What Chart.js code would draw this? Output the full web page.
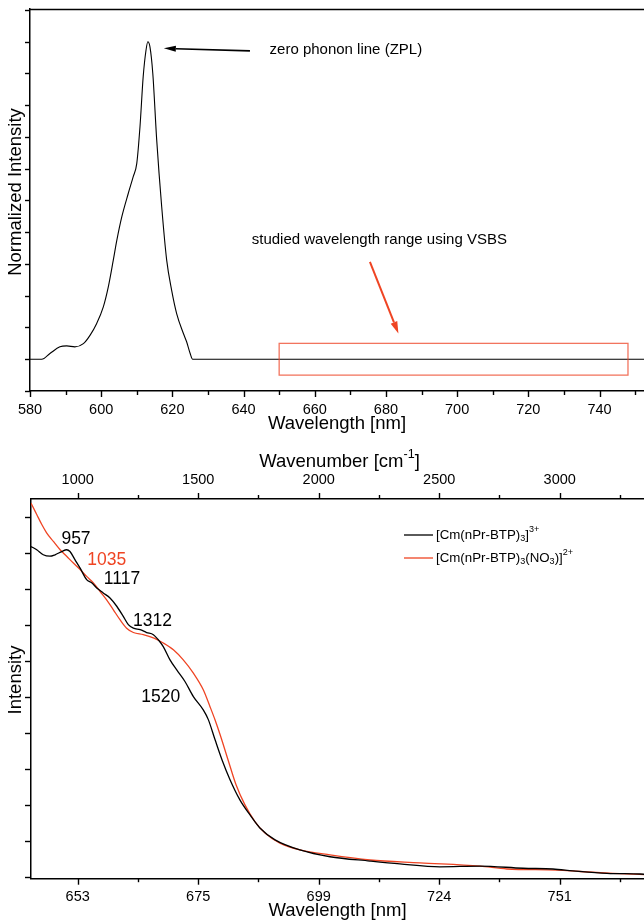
<!DOCTYPE html>
<html>
<head>
<meta charset="utf-8">
<title>Cm(III) emission and vibronic sideband</title>
<script src="https://cdn.jsdelivr.net/npm/chart.js@4.4.1/dist/chart.umd.min.js"></script>
<style>
  body { margin: 0; background: #fff; width: 644px; height: 922px; overflow: hidden; position: relative; }
  canvas { position: absolute; left: 0; }
  #zpl-chart { top: 0; }
  #vsbs-chart { top: 440px; }
</style>
</head>
<body>
<canvas id="zpl-chart" width="644" height="440"></canvas>
<canvas id="vsbs-chart" width="644" height="482"></canvas>
<script>
const FONT = "'Liberation Sans', Arial, sans-serif";
Chart.defaults.font.family = FONT;
Chart.defaults.color = '#000';

// emission spectrum, normalized to the ZPL maximum
const zplWavelength = [580, 583.3, 585.6, 588.4, 590.3, 592.6, 595, 596.9, 598.7, 600.6, 602, 603.4, 604.4, 605.8, 607.6, 609, 610, 610.9, 611.8, 612.6, 613.1, 613.7, 614.5, 615.6, 617, 618.4, 619.8, 621.2, 623.1, 624, 625, 625.7, 760];
const zplIntensity = [0, 0, 0.018, 0.039, 0.042, 0.039, 0.049, 0.076, 0.112, 0.165, 0.228, 0.312, 0.375, 0.449, 0.522, 0.575, 0.617, 0.732, 0.89, 0.974, 1.0, 0.984, 0.9, 0.69, 0.48, 0.312, 0.217, 0.144, 0.081, 0.055, 0.018, 0, 0];

// vibronic sideband, shift from the ZPL in cm-1
const btpShift = [806, 830, 857, 885, 906, 934, 954, 968, 989, 1010, 1037, 1058, 1079, 1106, 1134, 1162, 1189, 1210, 1231, 1259, 1286, 1314, 1334, 1355, 1383, 1411, 1445, 1480, 1521, 1542, 1570, 1599, 1632, 1673, 1715, 1756, 1819, 1922, 2047, 2213, 2337, 2503, 2669, 2848, 2972, 3055, 3196, 3333, 3360];
const btpIntensity = [9.19, 9.10, 8.96, 8.92, 8.96, 9.05, 9.10, 9.05, 8.82, 8.59, 8.27, 8.18, 8.04, 7.90, 7.76, 7.53, 7.25, 7.02, 6.92, 6.88, 6.80, 6.74, 6.60, 6.41, 6.04, 5.76, 5.44, 5.02, 4.65, 4.38, 3.82, 3.26, 2.71, 2.15, 1.73, 1.37, 1.04, 0.76, 0.57, 0.45, 0.37, 0.29, 0.31, 0.25, 0.23, 0.18, 0.11, 0.09, 0.08];
const nitrateShift = [806, 830, 851, 871, 899, 927, 954, 982, 1010, 1037, 1065, 1093, 1120, 1148, 1176, 1203, 1231, 1272, 1314, 1355, 1397, 1438, 1480, 1521, 1549, 1570, 1591, 1624, 1657, 1694, 1736, 1777, 1839, 1922, 2047, 2213, 2420, 2669, 2781, 2989, 3084, 3221, 3333, 3360];
const nitrateIntensity = [10.4, 10.08, 9.80, 9.57, 9.33, 9.10, 8.92, 8.73, 8.55, 8.36, 8.18, 7.94, 7.71, 7.43, 7.15, 6.92, 6.80, 6.74, 6.65, 6.51, 6.32, 6.04, 5.67, 5.21, 4.74, 4.37, 3.96, 3.26, 2.57, 2.01, 1.54, 1.23, 0.95, 0.76, 0.62, 0.48, 0.40, 0.31, 0.23, 0.20, 0.16, 0.11, 0.08, 0.07];

// ticks of the sideband axes
const shiftTickValues = [1000, 1250, 1500, 1750, 2000, 2250, 2500, 2750, 3000, 3250];
const shiftTicks = [1000, 1500, 2000, 2500, 3000];
const wavelengthTicks = ['653', '675', '699', '724', '751'];
const intensityTickValues = [0, 1, 2, 3, 4, 5, 6, 7, 8, 9, 10];

// band positions written next to the curves
const peakLabels = ['957', '1035', '1117', '1312', '1520'];

const toPoints = (xs, ys) => xs.map((x, i) => ({ x, y: ys[i] }));

// rich text with sub/superscripts, drawn left to right
function drawRich(ctx, parts, x, y, size, align) {
  const fontOf = p => `${p.sub || p.sup ? size * 0.68 : size}px ${FONT}`;
  let w = 0;
  parts.forEach(p => { ctx.font = fontOf(p); w += ctx.measureText(p.t).width; });
  let cx = align === 'center' ? x - w / 2 : x;
  ctx.textAlign = 'left';
  ctx.textBaseline = 'middle';
  parts.forEach(p => {
    ctx.font = fontOf(p);
    const dy = p.sub ? size * 0.28 : p.sup ? -size * 0.38 : 0;
    ctx.fillText(p.t, cx, y + dy);
    cx += ctx.measureText(p.t).width;
  });
}

function arrow(ctx, x1, y1, x2, y2, color, width, len, half) {
  const a = Math.atan2(y2 - y1, x2 - x1);
  const bx = x2 - len * Math.cos(a), by = y2 - len * Math.sin(a);
  ctx.strokeStyle = color;
  ctx.fillStyle = color;
  ctx.lineWidth = width;
  ctx.beginPath(); ctx.moveTo(x1, y1); ctx.lineTo(bx, by); ctx.stroke();
  ctx.beginPath();
  ctx.moveTo(x2, y2);
  ctx.lineTo(bx + half * Math.sin(a), by - half * Math.cos(a));
  ctx.lineTo(bx - half * Math.sin(a), by + half * Math.cos(a));
  ctx.closePath();
  ctx.fill();
}

function verticalTitle(ctx, text, x, y, size) {
  ctx.save();
  ctx.translate(x, y);
  ctx.rotate(-Math.PI / 2);
  ctx.font = `${size}px ${FONT}`;
  ctx.textAlign = 'center';
  ctx.textBaseline = 'middle';
  ctx.fillStyle = '#000';
  ctx.fillText(text, 0, 0);
  ctx.restore();
}

// outward tick marks, long for labelled ticks and short for the rest
function tickMarks(spec) {
  return {
    id: 'tickMarks',
    afterDraw(chart) {
      const ctx = chart.ctx;
      ctx.save();
      ctx.strokeStyle = '#000';
      ctx.lineWidth = 1.4;
      Object.keys(spec).forEach(id => {
        const s = chart.scales[id];
        const cfg = spec[id];
        s.ticks.forEach(t => {
          const len = cfg.isMajor(t.value) ? cfg.long : cfg.short;
          const p = Math.round(s.getPixelForValue(t.value)) + 0.5;
          ctx.beginPath();
          if (s.position === 'left') { ctx.moveTo(s.right, p); ctx.lineTo(s.right - len, p); }
          else if (s.position === 'bottom') { ctx.moveTo(p, s.top); ctx.lineTo(p, s.top + len); }
          else { ctx.moveTo(p, s.bottom); ctx.lineTo(p, s.bottom - len); }
          ctx.stroke();
        });
      });
      ctx.restore();
    }
  };
}

const axisBorder = { color: '#000', width: 1.5 };
const noGrid = { drawOnChartArea: false, drawTicks: false };

// fixed axis box, and no extra room kept for the end labels
const fixHeight = h => s => { s.height = h; s.paddingLeft = 0; s.paddingRight = 0; };

//emission spectrum with the ZPL
const zplNotes = {
  id: 'zplNotes',
  afterDraw(chart) {
    const { ctx, chartArea: a, scales: { x, y } } = chart;
    ctx.save();
    ctx.strokeStyle = '#000';
    ctx.lineWidth = 1.5;
    ctx.beginPath();
    ctx.moveTo(a.left, a.top + 0.5);
    ctx.lineTo(a.right, a.top + 0.5);
    ctx.stroke();

    // window covered by the sideband measurement
    const x0 = x.getPixelForValue(650), x1 = x.getPixelForValue(748);
    const y0 = y.getPixelForValue(0.05), y1 = y.getPixelForValue(-0.05);
    ctx.strokeStyle = 'rgba(238, 70, 40, 0.75)';
    ctx.lineWidth = 1.3;
    ctx.strokeRect(x0, y0, x1 - x0, y1 - y0);

    arrow(ctx, x.getPixelForValue(641.8), y.getPixelForValue(0.971),
      x.getPixelForValue(617.6), y.getPixelForValue(0.979), '#000', 1.6, 12, 3);
    arrow(ctx, x.getPixelForValue(675.5), y.getPixelForValue(0.307),
      x.getPixelForValue(683.5), y.getPixelForValue(0.081), '#ef4423', 2, 12, 3.5);

    ctx.fillStyle = '#000';
    ctx.font = `15px ${FONT}`;
    ctx.textAlign = 'left';
    ctx.textBaseline = 'middle';
    ctx.fillText('zero phonon line (ZPL)', x.getPixelForValue(647.3), y.getPixelForValue(0.974));
    ctx.fillText('studied wavelength range using VSBS', x.getPixelForValue(642.3), y.getPixelForValue(0.375));

    verticalTitle(ctx, 'Normalized Intensity', 16, 192, 18.5);
    ctx.restore();
  }
};

new Chart(document.getElementById('zpl-chart'), {
  type: 'line',
  data: {
    datasets: [{
      data: toPoints(zplWavelength, zplIntensity),
      borderColor: '#000',
      borderWidth: 1.1,
      pointRadius: 0,
      cubicInterpolationMode: 'monotone'
    }]
  },
  options: {
    responsive: false,
    animation: false,
    events: [],
    layout: { padding: { top: 9, left: 0, right: 0, bottom: 0 } },
    plugins: { legend: { display: false }, tooltip: { enabled: false } },
    scales: {
      x: {
        type: 'linear', min: 580, max: 752.5,
        grid: noGrid, border: axisBorder,
        ticks: {
          stepSize: 10, includeBounds: false, autoSkip: false, maxRotation: 0,
          padding: 10.3, font: { size: 14.5 }, color: '#000',
          callback: v => (v % 20 === 0 ? v : '')
        },
        title: { display: true, text: 'Wavelength [nm]', font: { size: 18.5 }, color: '#000', padding: { top: 0, bottom: 5 } },
        afterFit: fixHeight(49)
      },
      y: {
        type: 'linear', min: -0.1, max: 1.103,
        grid: noGrid, border: axisBorder,
        ticks: { display: false, stepSize: 0.1, includeBounds: false },
        afterFit: s => { s.width = 30; }
      }
    }
  },
  plugins: [zplNotes, tickMarks({
    x: { isMajor: v => v % 20 === 0, long: 6, short: 4 },
    y: { isMajor: () => true, long: 5, short: 5 }
  })]
});

//sideband spectra of the two complexes
const vsbsNotes = {
  id: 'vsbsNotes',
  afterDraw(chart) {
    const { ctx, chartArea: a, scales: { x, y } } = chart;
    ctx.save();
    ctx.fillStyle = '#000';

    const spots = [[992.9, 9.39, '#000'], [1120.3, 8.80, '#ef4423'], [1183.8, 8.27, '#000'], [1310.4, 7.11, '#000'], [1344.8, 5.01, '#000']];
    ctx.font = `17.5px ${FONT}`;
    ctx.textAlign = 'center';
    ctx.textBaseline = 'middle';
    peakLabels.forEach((txt, i) => {
      ctx.fillStyle = spots[i][2];
      ctx.fillText(txt, x.getPixelForValue(spots[i][0]), y.getPixelForValue(spots[i][1]));
    });

    // legend
    const entries = [
      { color: '#000', parts: [{ t: '[Cm(nPr-BTP)' }, { t: '3', sub: true }, { t: ']' }, { t: '3+', sup: true }] },
      { color: '#ef4423', parts: [{ t: '[Cm(nPr-BTP)' }, { t: '3', sub: true }, { t: '(NO' }, { t: '3', sub: true }, { t: ')]' }, { t: '2+', sup: true }] }
    ];
    entries.forEach((e, i) => {
      const ly = 95 + i * 23;
      ctx.strokeStyle = e.color;
      ctx.lineWidth = 1.3;
      ctx.beginPath();
      ctx.moveTo(404, ly);
      ctx.lineTo(433, ly);
      ctx.stroke();
      ctx.fillStyle = '#000';
      drawRich(ctx, e.parts, 436, ly, 13.3, 'left');
    });

    ctx.fillStyle = '#000';
    drawRich(ctx, [{ t: 'Wavenumber [cm' }, { t: '-1', sup: true }, { t: ']' }], (a.left + a.right) / 2 + 2, 22, 18.5, 'center');
    verticalTitle(ctx, 'Intensity', 16, 240, 18.5);
    ctx.restore();
  }
};

const shiftRange = { min: 806.2, max: 3349.8 };
const useShiftTicks = s => { s.ticks = shiftTickValues.map(v => ({ value: v })); };

new Chart(document.getElementById('vsbs-chart'), {
  type: 'line',
  data: {
    datasets: [
      {
        label: 'BTP',
        data: toPoints(btpShift, btpIntensity),
        borderColor: '#000',
        borderWidth: 1.3,
        pointRadius: 0,
        cubicInterpolationMode: 'monotone'
      },
      {
        label: 'BTP nitrate',
        data: toPoints(nitrateShift, nitrateIntensity),
        borderColor: '#ef4423',
        borderWidth: 1.3,
        pointRadius: 0,
        cubicInterpolationMode: 'monotone'
      }
    ]
  },
  options: {
    responsive: false,
    animation: false,
    events: [],
    layout: { padding: 0 },
    plugins: { legend: { display: false }, tooltip: { enabled: false } },
    scales: {
      x: {
        type: 'linear', position: 'bottom', ...shiftRange,
        grid: noGrid, border: axisBorder,
        afterBuildTicks: useShiftTicks,
        ticks: {
          autoSkip: false, maxRotation: 0,
          padding: 9.6, font: { size: 14.5 }, color: '#000',
          callback: v => {
            const i = shiftTicks.indexOf(v);
            return i < 0 ? '' : wavelengthTicks[i];
          }
        },
        title: { display: true, text: 'Wavelength [nm]', font: { size: 18.5 }, color: '#000', padding: { top: 0, bottom: 0 } },
        afterFit: fixHeight(43.3)
      },
      x2: {
        type: 'linear', position: 'top', ...shiftRange,
        grid: noGrid, border: axisBorder,
        afterBuildTicks: useShiftTicks,
        ticks: {
          autoSkip: false, maxRotation: 0,
          padding: 10.3, font: { size: 14.5 }, color: '#000',
          callback: v => (shiftTicks.includes(v) ? v : '')
        },
        afterFit: fixHeight(59)
      },
      y: {
        type: 'linear', min: -0.04, max: 10.51,
        grid: noGrid, border: axisBorder,
        afterBuildTicks: s => { s.ticks = intensityTickValues.map(v => ({ value: v })); },
        ticks: { display: false },
        afterFit: s => { s.width = 31; }
      }
    }
  },
  plugins: [vsbsNotes, tickMarks({
    x: { isMajor: v => shiftTicks.includes(v), long: 6, short: 3.5 },
    x2: { isMajor: v => shiftTicks.includes(v), long: 6, short: 4 },
    y: { isMajor: () => true, long: 6, short: 6 }
  })]
});
</script>
</body>
</html>
